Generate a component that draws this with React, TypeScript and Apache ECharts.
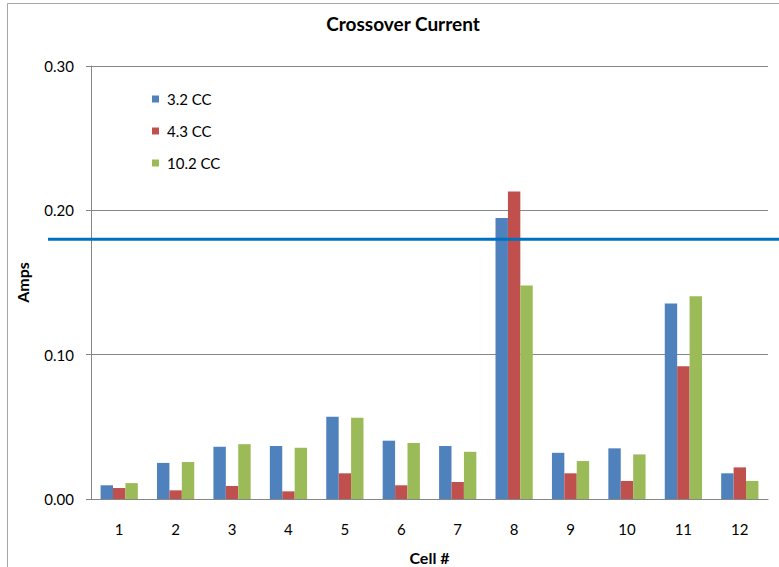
import React, { useEffect, useRef } from "react";
import * as echarts from "echarts";

const cells = ["1", "2", "3", "4", "5", "6", "7", "8", "9", "10", "11", "12"];
const cc32 = [0.0095, 0.025, 0.0362, 0.0367, 0.057, 0.0404, 0.0367, 0.1947, 0.032, 0.0351, 0.1354, 0.0178];
const cc43 = [0.0076, 0.006, 0.009, 0.0053, 0.0178, 0.0095, 0.0118, 0.2131, 0.0178, 0.0125, 0.092, 0.0219];
const cc102 = [0.011, 0.0256, 0.038, 0.0355, 0.0563, 0.0388, 0.0327, 0.1479, 0.0263, 0.0309, 0.1405, 0.0125];
const limit = 0.18;

const FONT = "Lato, 'Open Sans', sans-serif";

export default function App() {
  const ref = useRef<HTMLDivElement>(null);

  useEffect(() => {
    if (!ref.current) return;
    const chart = echarts.init(ref.current, undefined, { renderer: "svg" });
    const bar = (name: string, data: number[], color: string) => ({
      name,
      type: "bar",
      data,
      barGap: "0%",
      barCategoryGap: "34%",
      itemStyle: { color },
    });
    chart.setOption({
      animation: false,
      backgroundColor: "#ffffff",
      textStyle: { fontFamily: FONT, color: "#000" },
      title: {
        text: "Crossover Current",
        left: 398,
        textAlign: "center",
        top: 9,
        textStyle: { fontFamily: FONT, fontSize: 19, fontWeight: "bold", color: "#000" },
      },
      legend: {
        orient: "vertical",
        left: 147,
        top: 86,
        icon: "rect",
        itemWidth: 7,
        itemHeight: 7,
        itemGap: 16,
        textStyle: { fontFamily: FONT, fontSize: 15, color: "#000", lineHeight: 16, padding: [0, 0, 0, 3] },
        data: ["3.2 CC", "4.3 CC", "10.2 CC"],
      },
      grid: {
        left: 91,
        right: 11,
        top: 66,
        bottom: 68,
        containLabel: false,
        outerBoundsMode: "none",
      },
      xAxis: {
        type: "category",
        data: cells,
        name: "Cell #",
        nameLocation: "middle",
        nameGap: 50,
        nameTextStyle: { fontFamily: FONT, fontSize: 16, fontWeight: "bold", color: "#000" },
        axisLine: { lineStyle: { color: "#868686", width: 1 } },
        axisTick: { show: false },
        axisLabel: { margin: 22, fontFamily: FONT, fontSize: 15, color: "#000" },
      },
      yAxis: {
        type: "value",
        min: 0,
        max: 0.3,
        interval: 0.1,
        name: "Amps",
        nameLocation: "middle",
        nameRotate: 90,
        nameGap: 61,
        nameTextStyle: { fontFamily: FONT, fontSize: 16, fontWeight: "bold", color: "#000" },
        axisLine: { show: true, lineStyle: { color: "#868686", width: 1 } },
        axisTick: { show: true, length: 5, lineStyle: { color: "#868686" } },
        axisLabel: {
          margin: 17,
          fontFamily: FONT,
          fontSize: 15,
          color: "#000",
          formatter: (v: number) => v.toFixed(2),
        },
        splitLine: { lineStyle: { color: "#868686", width: 1 } },
      },
      series: [
        bar("3.2 CC", cc32, "#4F81BD"),
        bar("4.3 CC", cc43, "#C0504D"),
        bar("10.2 CC", cc102, "#9BBB59"),
      ],
    });

    // Threshold line: positioned from the value axis, runs past the plot area to the edge.
    const yLimit = chart.convertToPixel({ yAxisIndex: 0 }, limit) as number;
    chart.setOption({
      graphic: [
        {
          type: "rect",
          shape: { x: 7.5, y: 3.5, width: 800, height: 600 },
          style: { fill: "none", stroke: "#a6a6a6", lineWidth: 1 },
          silent: true,
        },
        {
          type: "line",
          shape: { x1: 48, y1: yLimit, x2: 779, y2: yLimit },
          style: { stroke: "#0070C0", lineWidth: 3 },
          z: 10,
          silent: true,
        },
      ],
    });

    return () => chart.dispose();
  }, []);

  return (
    <div
      ref={ref}
      style={{ position: "fixed", left: 0, top: 0, width: 779, height: 567 }}
    />
  );
}
